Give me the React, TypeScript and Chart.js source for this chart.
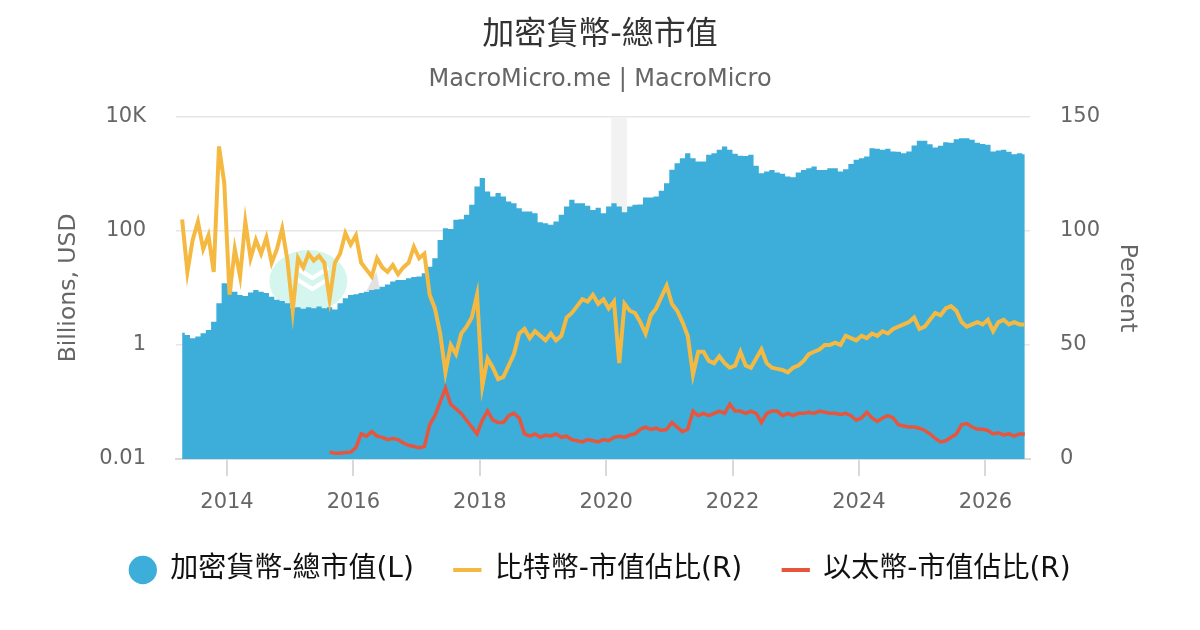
import React, { useEffect, useRef } from 'react';
import { Chart, registerables } from 'chart.js';

Chart.register(...registerables);

const FONT = "'DejaVu Sans', 'Noto Sans CJK TC', sans-serif";

// ---- data (monthly, starting 2013.29) ----
const startYear = 2013.29;

const marketCap = [
  1.64, 1.5, 1.31, 1.4, 1.6, 1.83, 2.56, 5.4, 12.1, 11.5,
  8.6, 7.5, 7.2, 8.3, 9.2, 8.6, 8.1, 7.0, 6.2, 5.9,
  5.4, 4.5, 4.6, 4.3, 4.6, 4.4, 4.7, 4.4, 4.6, 4.2,
  5.4, 6.6, 7.5, 7.7, 8.1, 8.6, 9.2, 9.5, 10.5, 11.5,
  12.9, 13.8, 13.8, 14.8, 15.5, 15.8, 18.1, 23.6, 33, 69,
  111, 108, 156, 160, 191, 286, 600, 841, 490, 400,
  460, 400, 327, 306, 250, 218, 218, 204, 142, 136,
  128, 146, 191, 267, 350, 306, 306, 275, 233, 255,
  204, 267, 306, 267, 213, 267, 286, 290, 385, 385,
  400, 505, 686, 1175, 1540, 1885, 2306, 1885, 1644, 1644,
  2154, 2306, 2637, 3018, 2637, 2250, 2070, 2050, 2154, 1380,
  1028, 1100, 1170, 1055, 1000, 897, 870, 1055, 1170, 1259,
  1350, 1170, 1170, 1259, 1259, 1100, 1200, 1480, 1762, 1885,
  2013, 2820, 2750, 2637, 2750, 2465, 2450, 2306, 2465, 3140,
  3793, 3793, 3315, 2895, 3100, 3597, 3500, 4058, 4200, 4200,
  3950, 3500, 3350, 3250, 2465, 2560, 2637, 2450, 2215, 2306,
  2200,
];

const btcShare = [
  105, 82, 96, 104, 92, 98, 82, 137, 121, 72,
  92, 80, 104, 88, 96, 90, 97, 86, 92, 101,
  87, 65, 88, 84, 90, 87, 89, 86, 70, 86,
  90, 99, 94, 98, 86, 83, 80, 88, 84, 82,
  85, 81, 84, 86, 93, 88, 90, 72, 66, 55,
  38, 50, 46, 55, 58, 62, 72, 32, 44, 40,
  35, 36, 41, 46, 55, 57, 53, 56, 54, 52,
  55, 52, 54, 62, 64, 67, 70, 69, 72, 68,
  70, 66, 69, 42, 68, 65, 64, 60, 55, 63,
  66, 71, 76, 68, 65, 60, 54, 37, 47, 47,
  43, 42, 45, 42, 40, 41, 47, 41, 40, 44,
  48, 42, 40, 39.5, 39, 38, 40, 41, 43, 46,
  47, 48, 50, 50, 51, 50, 54, 53, 52, 54,
  53, 55, 54, 56, 55, 57, 58, 59, 60, 62,
  57, 58, 61, 64, 63, 66, 67, 65, 60, 58,
  59, 60, 59, 61, 56, 60, 61, 59, 60, 59,
  59,
];

const ethShare = [
  null, null, null, null, null, null, null, null, null, null,
  null, null, null, null, null, null, null, null, null, null,
  null, null, null, null, null, null, null, null, 3, 2.5,
  2.5, 2.8, 3, 5, 11, 10, 12, 10, 9.5, 8.5,
  9, 8.5, 7, 6, 5.5, 5, 5.5, 15, 19, 25,
  31, 24, 22, 20, 17, 14, 11, 17, 21, 17,
  16, 16, 19, 20, 18, 11, 10, 11, 9.5, 10.5,
  10, 11, 9.5, 10, 8.5, 8, 7.5, 8.5, 8, 7.5,
  8.5, 8, 9.5, 10, 9.5, 10.5, 11, 13, 14, 13,
  13.5, 12.5, 13, 16, 14, 12, 13, 21, 19, 20,
  19, 20, 21, 20, 24, 21, 21, 20, 21, 20,
  16, 20, 21, 21, 19, 20, 19, 20, 20, 20.5,
  20, 21, 20.5, 20, 20, 19.5, 20, 19, 17, 18,
  20.5, 18, 16.5, 18, 19, 18, 15, 14.5, 14, 14,
  13.5, 12.5, 11, 9, 7.5, 8, 9.5, 11, 15, 15.5,
  14, 13, 13, 12.5, 11, 11.5, 10.5, 11, 10, 11,
  11,
];

const months = marketCap.map((_, i) => +(startYear + i / 12).toFixed(4));

const xTicks = [2014, 2016, 2018, 2020, 2022, 2024, 2026];
const leftTicks = [0.01, 1, 100, 10000];
const leftTickLabels = ['0.01', '1', '100', '10K'];
const rightTicks = [0, 50, 100, 150];
const shadeRange = [2020.08, 2020.33];

const seriesNames = ['加密貨幣-總市值(L)', '比特幣-市值佔比(R)', '以太幣-市值佔比(R)'];
const colors = ['#3caed9', '#f5b942', '#e8553d'];

const shadePlugin = {
  id: 'shadeBand',
  beforeDatasetsDraw(chart: any) {
    const { ctx, chartArea, scales } = chart;
    const x0 = scales.x.getPixelForValue(shadeRange[0]);
    const x1 = scales.x.getPixelForValue(shadeRange[1]);
    ctx.save();
    ctx.fillStyle = '#f2f2f2';
    ctx.fillRect(x0, chartArea.top + 1, x1 - x0, chartArea.bottom - chartArea.top - 1);
    ctx.restore();
  },
};

const watermarkPlugin = {
  id: 'watermark',
  beforeDatasetsDraw(chart: any) {
    const { ctx, chartArea: a } = chart;
    const w = a.right - a.left;
    const h = a.bottom - a.top;
    const cx = a.left + w * 0.155;
    const cy = a.top + h * 0.48;
    ctx.save();
    ctx.fillStyle = '#d5f5ef';
    ctx.beginPath();
    ctx.ellipse(cx, cy, 39, 31, 0, 0, Math.PI * 2);
    ctx.fill();
    ctx.strokeStyle = '#ffffff';
    ctx.lineWidth = 4;
    for (const dy of [-3, 8]) {
      ctx.beginPath();
      ctx.moveTo(cx - 12, cy + dy - 10);
      ctx.lineTo(cx + 4, cy + dy);
      ctx.lineTo(cx + 20, cy + dy - 10);
      ctx.stroke();
    }
    ctx.fillStyle = '#e2e2e2';
    ctx.beginPath();
    ctx.moveTo(cx + 58, cy + 10);
    ctx.lineTo(cx + 68, cy - 9);
    ctx.lineTo(cx + 72, cy + 10);
    ctx.closePath();
    ctx.fill();
    ctx.restore();
  },
};

function buildConfig(): any {
  const defaultGen = (Chart.defaults as any).plugins.legend.labels.generateLabels;
  return {
    type: 'line',
    data: {
      datasets: [
        {
          label: seriesNames[0],
          data: months.map((m, i) => ({ x: m, y: marketCap[i] })),
          yAxisID: 'yL',
          fill: 'start',
          backgroundColor: colors[0],
          borderColor: colors[0],
          borderWidth: 0,
          pointRadius: 0,
          pointStyle: 'circle',
          stepped: 'middle',
          order: 3,
        },
        {
          label: seriesNames[1],
          data: months.map((m, i) => ({ x: m, y: btcShare[i] })),
          yAxisID: 'yR',
          fill: false,
          backgroundColor: colors[1],
          borderColor: colors[1],
          borderWidth: 4,
          pointRadius: 0,
          pointStyle: 'line',
          tension: 0,
          order: 2,
        },
        {
          label: seriesNames[2],
          data: months.map((m, i) => ({ x: m, y: ethShare[i] })),
          yAxisID: 'yR',
          fill: false,
          backgroundColor: colors[2],
          borderColor: colors[2],
          borderWidth: 3.5,
          pointRadius: 0,
          pointStyle: 'line',
          tension: 0,
          order: 1,
        },
      ],
    },
    options: {
      responsive: false,
      animation: false,
      events: [],
      font: { family: FONT },
      layout: { padding: { top: 0, left: 0, right: 0, bottom: 36 } },
      plugins: {
        title: {
          display: true,
          text: '加密貨幣-總市值',
          color: '#333333',
          font: { family: FONT, size: 32, weight: 'normal' },
          padding: { top: 16, bottom: 0 },
        },
        subtitle: {
          display: true,
          text: 'MacroMicro.me | MacroMicro',
          color: '#666666',
          font: { family: FONT, size: 24, weight: 'normal' },
          padding: { top: 11, bottom: 22.6 },
        },
        legend: {
          display: true,
          position: 'bottom',
          labels: {
            usePointStyle: true,
            boxWidth: 27,
            boxHeight: 20,
            padding: 40,
            color: '#111111',
            font: { family: FONT, size: 28 },
            sort: (a: any, b: any) => a.datasetIndex - b.datasetIndex,
            generateLabels: (chart: any) => {
              const items = defaultGen(chart);
              items.forEach((it: any) => {
                if (it.datasetIndex > 0) it.lineWidth = 4;
                else it.lineWidth = 0;
              });
              return items;
            },
          },
        },
        tooltip: { enabled: false },
      },
      scales: {
        x: {
          type: 'linear',
          min: 2013.193,
          max: 2026.706,
          afterBuildTicks: (s: any) => {
            s.ticks = xTicks.map((v) => ({ value: v }));
          },
          afterFit: (s: any) => {
            s.height = 57;
          },
          ticks: {
            callback: (v: any) => String(v),
            color: '#666666',
            font: { family: FONT, size: 21 },
            padding: 14,
            maxRotation: 0,
            autoSkip: false,
          },
          grid: {
            drawOnChartArea: false,
            drawTicks: true,
            tickLength: 17,
            color: '#d9d9d9',
            lineWidth: 2,
          },
          border: { display: true, color: '#d9d9d9', width: 2 },
        },
        yL: {
          type: 'logarithmic',
          position: 'left',
          min: 0.01,
          max: 10000,
          afterBuildTicks: (s: any) => {
            s.ticks = leftTicks.map((v) => ({ value: v }));
          },
          afterFit: (s: any) => {
            s.width = 176;
          },
          ticks: {
            callback: (v: any) => {
              const k = leftTicks.indexOf(Number(v));
              return k >= 0 ? leftTickLabels[k] : '';
            },
            color: '#666666',
            font: { family: FONT, size: 21 },
            padding: 30,
            autoSkip: false,
          },
          grid: { color: '#e6e6e6', lineWidth: 1.5, drawTicks: false },
          border: { display: false },
          title: {
            display: true,
            text: 'Billions, USD',
            color: '#666666',
            font: { family: FONT, size: 23.5 },
            padding: { top: 55, bottom: 0 },
          },
        },
        yR: {
          type: 'linear',
          position: 'right',
          min: 0,
          max: 150,
          afterBuildTicks: (s: any) => {
            s.ticks = rightTicks.map((v) => ({ value: v }));
          },
          afterFit: (s: any) => {
            s.width = 170;
          },
          ticks: {
            color: '#666666',
            font: { family: FONT, size: 21 },
            padding: 30,
            autoSkip: false,
          },
          grid: { display: false, drawTicks: false },
          border: { display: false },
          title: {
            display: true,
            text: 'Percent',
            color: '#666666',
            font: { family: FONT, size: 23.5 },
            padding: { top: 59, bottom: 0 },
          },
        },
      },
    },
    plugins: [shadePlugin, watermarkPlugin],
  };
}

export default function App() {
  const ref = useRef<HTMLCanvasElement>(null);
  useEffect(() => {
    document.body.style.margin = '0';
    Chart.defaults.font.family = FONT;
    const chart = new Chart(ref.current as HTMLCanvasElement, buildConfig());
    return () => chart.destroy();
  }, []);
  return (
    <div style={{ position: 'fixed', left: 0, top: 0, width: 1200, height: 630, background: '#ffffff' }}>
      <canvas ref={ref} width={1200} height={630} style={{ display: 'block', width: 1200, height: 630 }} />
    </div>
  );
}
